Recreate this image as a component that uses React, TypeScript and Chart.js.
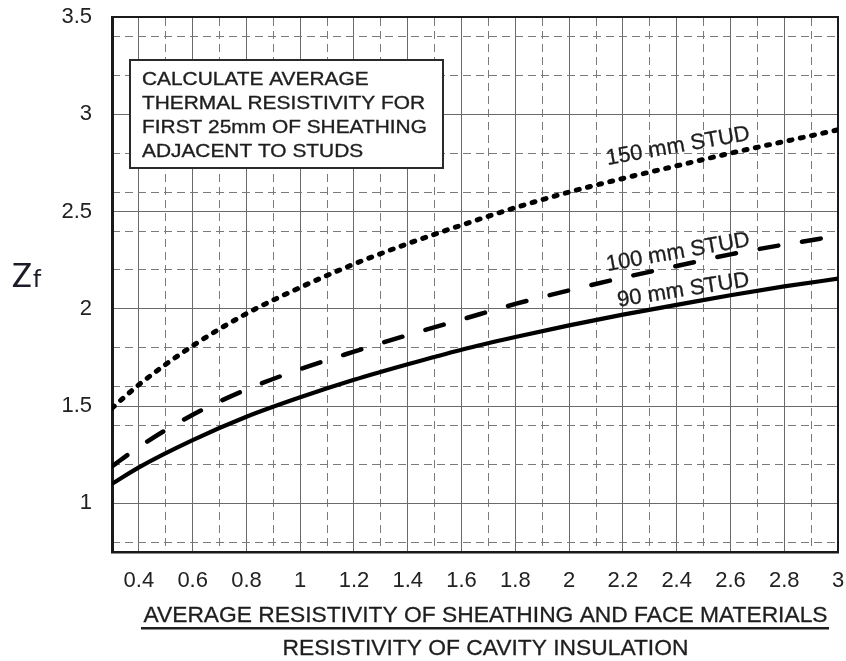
import React, { useEffect, useRef } from "react";
import { Chart, registerables } from "chart.js";

Chart.register(...registerables);

// ---- data ----
const X_VALUES = [0.3, 0.4, 0.6, 0.8, 1.0, 1.2, 1.4, 1.6, 1.8, 2.0, 2.2, 2.4, 2.6, 2.8, 3.0];
const STUD_150 = [1.49, 1.61, 1.81, 1.975, 2.11, 2.23, 2.335, 2.43, 2.52, 2.6, 2.67, 2.735, 2.8, 2.86, 2.92];
const STUD_100 = [1.19, 1.29, 1.455, 1.585, 1.69, 1.78, 1.865, 1.945, 2.025, 2.095, 2.16, 2.22, 2.28, 2.33, 2.375];
const STUD_90 = [1.1, 1.185, 1.325, 1.445, 1.545, 1.635, 1.715, 1.79, 1.855, 1.915, 1.97, 2.02, 2.07, 2.115, 2.155];

const X_TICKS = [0.4, 0.6, 0.8, 1, 1.2, 1.4, 1.6, 1.8, 2, 2.2, 2.4, 2.6, 2.8, 3];
const X_MINOR = [0.5, 0.7, 0.9, 1.1, 1.3, 1.5, 1.7, 1.9, 2.1, 2.3, 2.5, 2.7, 2.9];
const Y_TICKS = [1, 1.5, 2, 2.5, 3, 3.5];
const Y_MINOR = [0.8, 1.2, 1.4, 1.6, 1.8, 2.2, 2.4, 2.6, 2.8, 3.2, 3.4];

const SERIES_LABELS = ["150 mm STUD", "100 mm STUD", "90 mm STUD"];
const BOX_LINES = [
  "CALCULATE AVERAGE",
  "THERMAL RESISTIVITY FOR",
  "FIRST 25mm OF SHEATHING",
  "ADJACENT TO STUDS",
];
const X_TITLE_TOP = "AVERAGE RESISTIVITY OF SHEATHING AND FACE MATERIALS";
const X_TITLE_BOTTOM = "RESISTIVITY OF CAVITY INSULATION";

const FONT = '"Liberation Sans", Arial, sans-serif';
const INK = "#1e1e1e";

const toPoints = (ys: number[]) => X_VALUES.map((x, i) => ({ x, y: ys[i] }));

function boldText(ctx: CanvasRenderingContext2D, text: string, x: number, y: number, w = 0.45) {
  ctx.fillText(text, x, y);
  ctx.lineWidth = w;
  ctx.strokeStyle = ctx.fillStyle as string;
  ctx.strokeText(text, x, y);
}

const overlay = {
  id: "overlay",
  afterDraw(chart: any) {
    const ctx: CanvasRenderingContext2D = chart.ctx;
    const xs = chart.scales.x;
    const ys = chart.scales.y;
    ctx.save();

    // annotation box
    ctx.fillStyle = "#fff";
    ctx.fillRect(130, 60, 313, 108);
    ctx.strokeStyle = "#2a2a2a";
    ctx.lineWidth = 2;
    ctx.strokeRect(130, 60, 313, 108);
    ctx.fillStyle = INK;
    ctx.font = `19px ${FONT}`;
    ctx.textBaseline = "alphabetic";
    ctx.textAlign = "left";
    const sx = 283 / ctx.measureText(BOX_LINES[1]).width;
    const baselines = [85, 109, 133, 157];
    BOX_LINES.forEach((line, i) => {
      ctx.save();
      ctx.translate(142, baselines[i]);
      ctx.scale(sx, 1);
      boldText(ctx, line, 0, 0, 0.35);
      ctx.restore();
    });

    // curve labels
    const labelSpecs = [
      { x: 2.405, y: 2.835, a: -10 },
      { x: 2.405, y: 2.29, a: -10 },
      { x: 2.425, y: 2.095, a: -9 },
    ];
    ctx.font = `22px ${FONT}`;
    ctx.textAlign = "center";
    ctx.textBaseline = "middle";
    labelSpecs.forEach((s, i) => {
      ctx.save();
      ctx.translate(xs.getPixelForValue(s.x), ys.getPixelForValue(s.y));
      ctx.rotate((s.a * Math.PI) / 180);
      boldText(ctx, SERIES_LABELS[i], 0, 0, 0.3);
      ctx.restore();
    });

    // y title Zf
    ctx.textAlign = "left";
    ctx.textBaseline = "alphabetic";
    ctx.fillStyle = "#1c1c28";
    ctx.font = `33px Lato, "Open Sans", sans-serif`;
    ctx.fillText("Z", 12, 287);
    const zw = ctx.measureText("Z").width;
    ctx.font = `25px Lato, "Open Sans", sans-serif`;
    ctx.fillText("f", 12 + zw + 1, 287);

    // x title as fraction
    ctx.fillStyle = INK;
    ctx.font = `22.8px ${FONT}`;
    ctx.textAlign = "center";
    const cx = 485.5;
    boldText(ctx, X_TITLE_TOP, cx, 622, 0.3);
    ctx.fillRect(141, 627, 688, 2.5);
    boldText(ctx, X_TITLE_BOTTOM, cx, 655, 0.3);

    ctx.restore();
  },
};

export default function App() {
  const ref = useRef<HTMLCanvasElement | null>(null);

  useEffect(() => {
    if (!ref.current) return;
    const tickFont = { family: FONT, size: 22 };
    const chart = new Chart(ref.current, {
      type: "line",
      data: {
        datasets: [
          {
            label: SERIES_LABELS[0],
            data: toPoints(STUD_150),
            borderColor: "#000",
            borderWidth: 5,
            borderDash: [3, 8.5],
            borderCapStyle: "round",
            pointRadius: 0,
            cubicInterpolationMode: "monotone",
          },
          {
            label: SERIES_LABELS[1],
            data: toPoints(STUD_100),
            borderColor: "#000",
            borderWidth: 4.5,
            borderDash: [19, 24],
            borderCapStyle: "round",
            pointRadius: 0,
            cubicInterpolationMode: "monotone",
          },
          {
            label: SERIES_LABELS[2],
            data: toPoints(STUD_90),
            borderColor: "#000",
            borderWidth: 4.2,
            pointRadius: 0,
            cubicInterpolationMode: "monotone",
          },
        ],
      },
      options: {
        responsive: false,
        animation: false,
        layout: { padding: { left: 0, right: 8, top: 17, bottom: 0 } },
        plugins: { legend: { display: false }, tooltip: { enabled: false } },
        scales: {
          x: {
            type: "linear",
            min: 0.3,
            max: 3,
            afterBuildTicks: (axis: any) => {
              axis.ticks = X_TICKS.map((v) => ({ value: v }));
            },
            afterFit: (axis: any) => {
              axis.height = 109;
            },
            ticks: {
              autoSkip: false,
              maxRotation: 0,
              padding: 0,
              color: "#222",
              font: tickFont,
              callback: (v: any) => String(v),
            },
            grid: {
              color: "#6a6a6a",
              lineWidth: 1,
              drawTicks: true,
              tickLength: 16,
              tickColor: "rgba(0,0,0,0)",
            },
            border: { display: true, color: "#1a1a1a", width: 2.5 },
          },
          x2: {
            type: "linear",
            position: "top",
            min: 0.3,
            max: 3,
            afterBuildTicks: (axis: any) => {
              axis.ticks = X_MINOR.map((v) => ({ value: v }));
            },
            afterFit: (axis: any) => {
              axis.height = 0;
            },
            ticks: { display: false, padding: 0 },
            grid: { color: "#7a7a7a", lineWidth: 1, drawTicks: false },
            border: { display: true, color: "#1a1a1a", width: 2, dash: [8, 5] },
          },
          y: {
            type: "linear",
            min: 0.75,
            max: 3.5,
            afterBuildTicks: (axis: any) => {
              axis.ticks = Y_TICKS.map((v) => ({ value: v }));
            },
            afterFit: (axis: any) => {
              axis.width = 112;
            },
            ticks: {
              padding: 0,
              color: "#222",
              font: tickFont,
              callback: (v: any) => String(v),
            },
            grid: {
              color: "#6a6a6a",
              lineWidth: 1,
              drawTicks: true,
              tickLength: 20,
              tickColor: "rgba(0,0,0,0)",
            },
            border: { display: true, color: "#1a1a1a", width: 3 },
          },
          y2: {
            type: "linear",
            position: "right",
            min: 0.75,
            max: 3.5,
            afterBuildTicks: (axis: any) => {
              axis.ticks = Y_MINOR.map((v) => ({ value: v }));
            },
            afterFit: (axis: any) => {
              axis.width = 0;
            },
            ticks: { display: false, padding: 0 },
            grid: { color: "#7a7a7a", lineWidth: 1, drawTicks: false },
            border: { display: true, color: "#1a1a1a", width: 2, dash: [8, 5] },
          },
        },
      },
      plugins: [overlay],
    } as any);
    return () => chart.destroy();
  }, []);

  return (
    <div style={{ position: "fixed", left: 0, top: 0, width: 846, height: 661, background: "#fff" }}>
      <canvas ref={ref} width={846} height={661} style={{ display: "block" }} />
    </div>
  );
}
